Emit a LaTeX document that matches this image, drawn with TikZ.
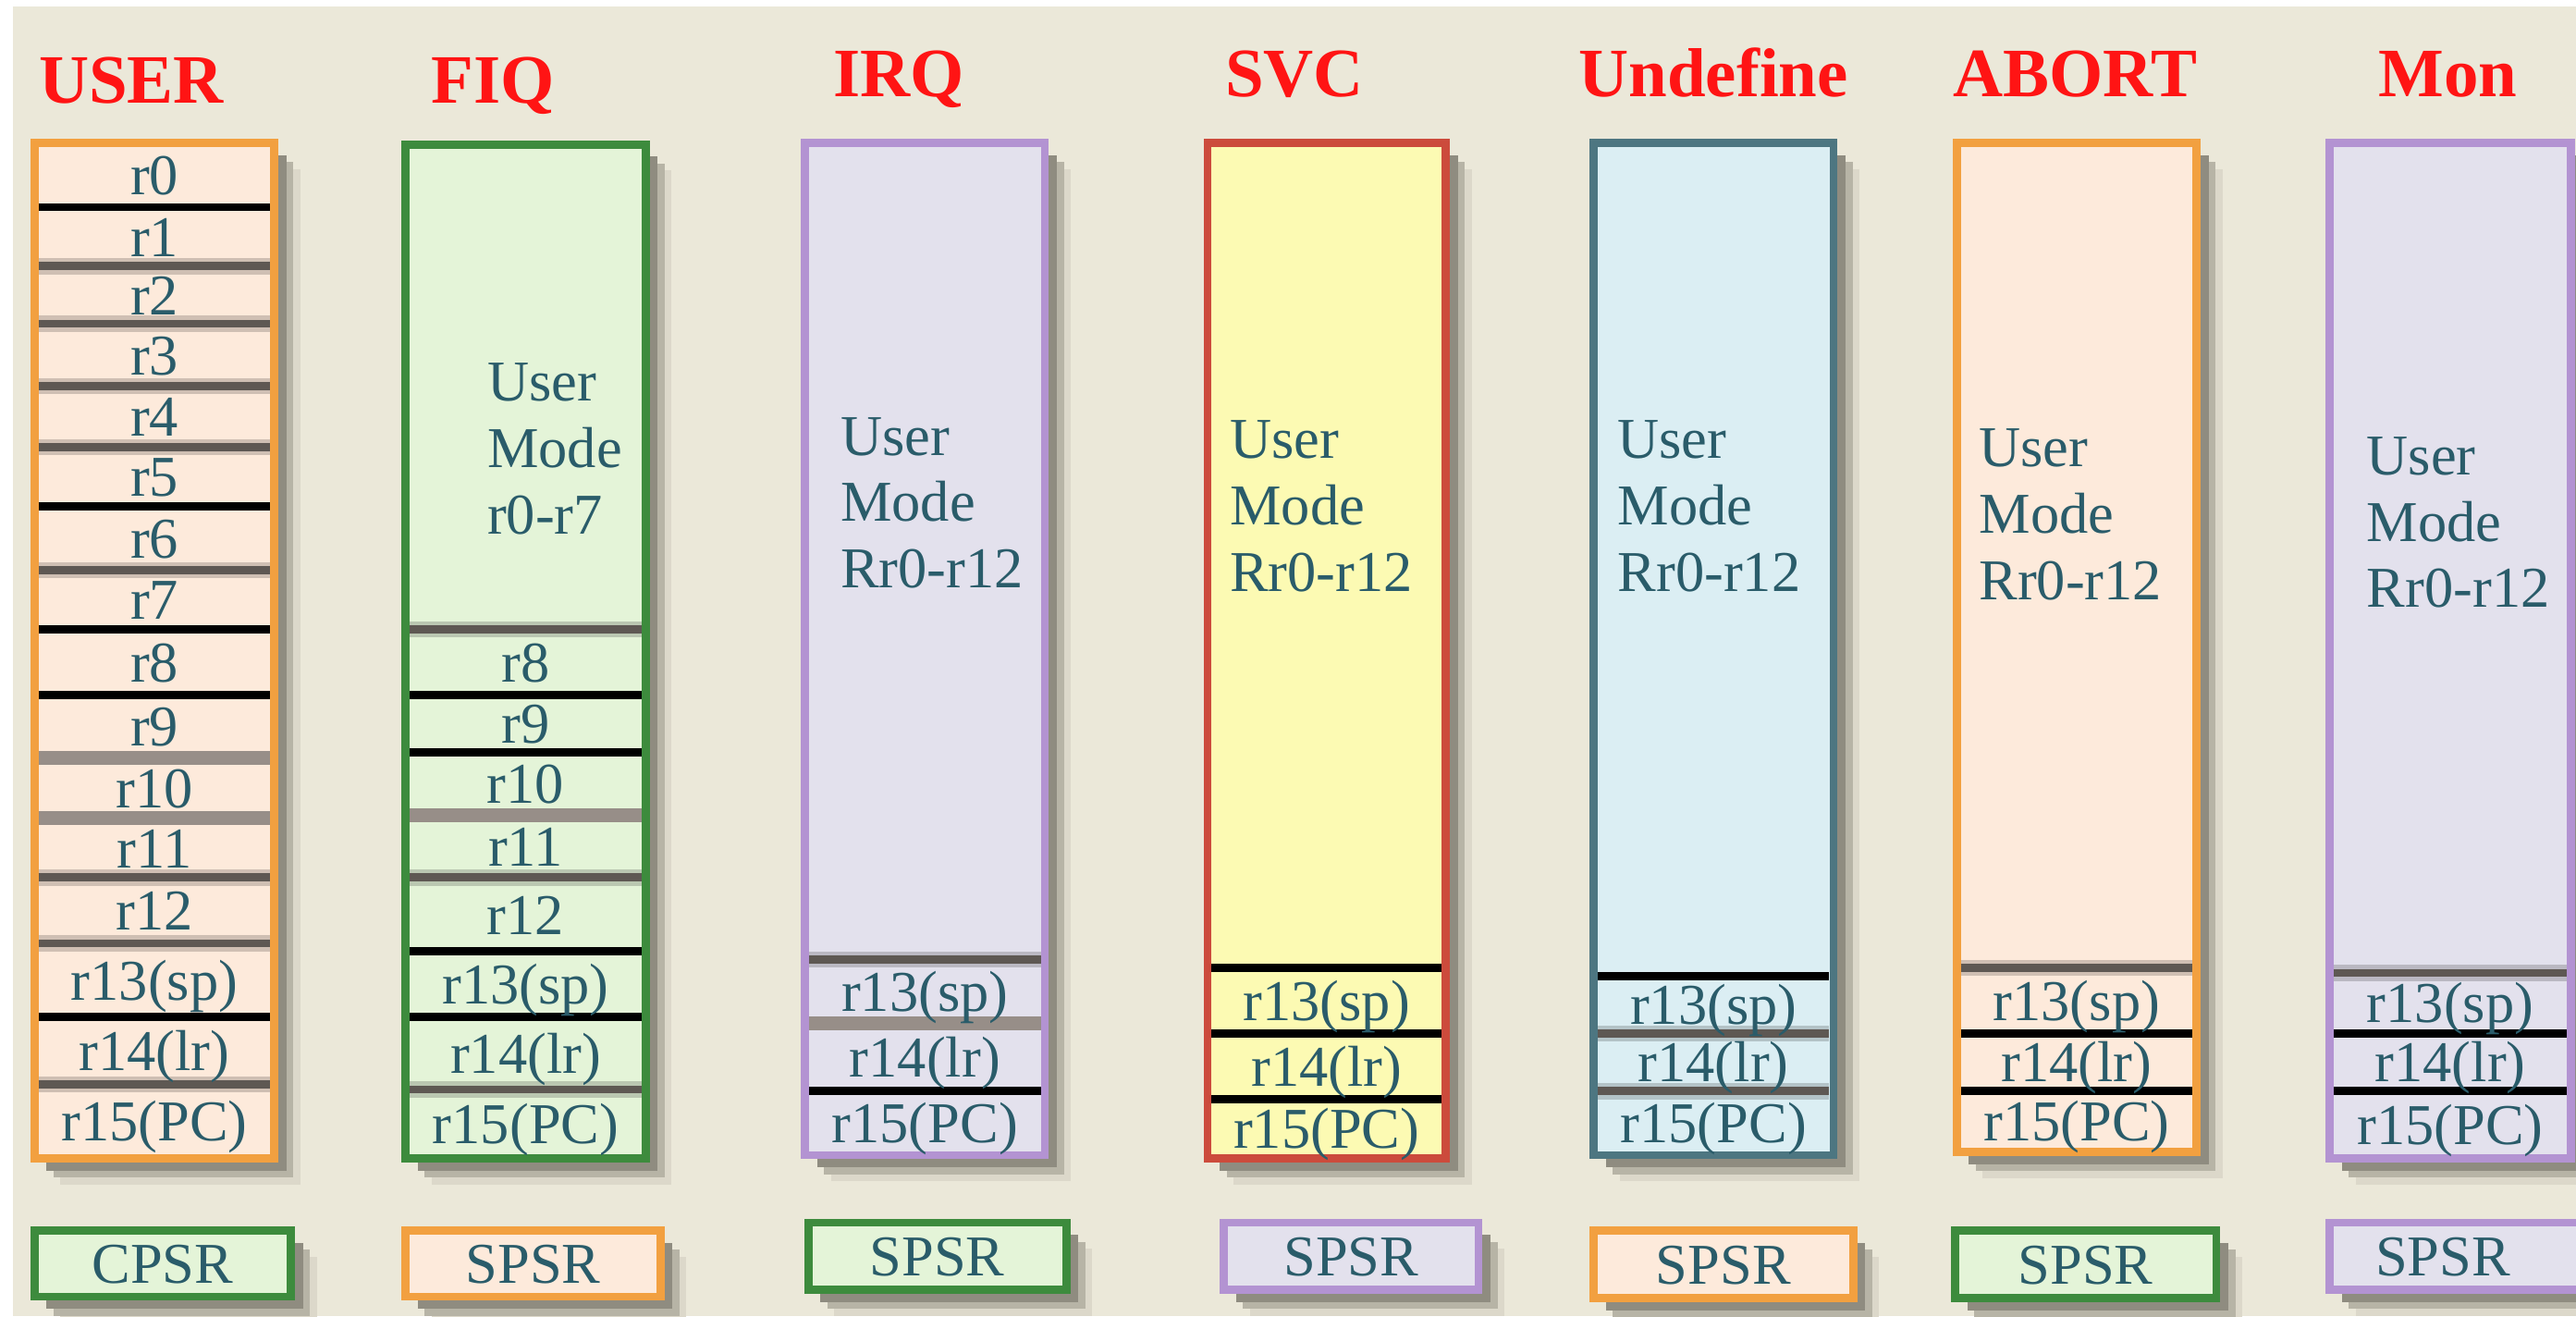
\documentclass[tikz,border=0pt]{standalone}
\usepackage{fontspec}
\setmainfont{Liberation Serif}
\usetikzlibrary{
  shadows % Für die Schatten der Kästen
}

% Farben
\definecolor{grund}{HTML}{EBE8D9}
\definecolor{titelrot}{HTML}{FF1414}
\definecolor{schrift}{HTML}{2A5C6A}
\definecolor{pfirsich}{HTML}{FDEADB}
\definecolor{orangerand}{HTML}{F2A040}
\definecolor{gruen}{HTML}{E4F4D8}
\definecolor{gruenrand}{HTML}{3D8B3D}
\definecolor{lila}{HTML}{E3E1ED}
\definecolor{lilarand}{HTML}{B393D2}
\definecolor{gelb}{HTML}{FCFAB3}
\definecolor{rotrand}{HTML}{CC4B3C}
\definecolor{blau}{HTML}{DBEEF3}
\definecolor{blaurand}{HTML}{4D7681}
\definecolor{schattenA}{HTML}{8F8C80}
\definecolor{schattenB}{HTML}{B7B4A6}
\definecolor{schattenC}{HTML}{DCD8CA}
\definecolor{trenngrau}{HTML}{5E5853}
\definecolor{trennmittel}{HTML}{978E88}

\begin{document}
\begin{tikzpicture}[
    x=0.1mm, y=-0.1mm, % 1 Einheit = 1 Pixel, y nach unten
    titel/.style={text=titelrot, font=\fontsize{12}{14}\selectfont\bfseries, anchor=base},
    reg/.style={text=schrift, font=\fontsize{10}{12}\selectfont, inner sep=0pt,
      text height=6.8pt, text depth=0pt},
    modus/.style={text=schrift, font=\fontsize{10}{11.5}\selectfont, inner sep=0pt,
      align=left, anchor=west},
    kasten/.style={line width=1.4pt,
      general shadow={shadow xshift=4.5pt, shadow yshift=-4.5pt, fill=schattenC},
      general shadow={shadow xshift=3.3pt, shadow yshift=-3.3pt, fill=schattenB},
      general shadow={shadow xshift=2.1pt, shadow yshift=-2.1pt, fill=schattenA}},
    trennk/.style={draw=black, line width=1.4pt},
    trenng/.style={draw=trenngrau, line width=1.4pt,
      preaction={draw=black, draw opacity=0.18, line width=2.8pt}},
    trennm/.style={draw=trennmittel, line width=2.4pt},
  ]
  % Hintergrund
  \useasboundingbox (0,0) rectangle (1568,801);
  \clip (0,0) rectangle (1568,801);
  \fill[white] (0,0) rectangle (1568,801);
  \fill[grund] (8,4) rectangle (1568,801);

  % USER
  \node[titel] (t-user) at (80,63) {USER};
  \draw[kasten, draw=orangerand, fill=pfirsich] (21,87) rectangle (167,705);
  \foreach \y/\s in {126/trennk, 162/trenng, 197/trenng, 235/trenng, 272/trenng,
      308/trennk, 347/trenng, 383/trennk, 423/trennk, 461/trennm, 498/trennm,
      534/trenng, 574/trenng, 619/trennk, 660/trenng}
    \draw[\s] (23.5,\y) -- (164.5,\y);
  \foreach \t/\y [count=\i from 0] in {r0/106.5, r1/144, r2/179.5, r3/216,
      r4/253.5, r5/290, r6/327.5, r7/365, r8/403, r9/442, r10/479.5, r11/516,
      r12/554, r13(sp)/596.5, r14(lr)/639.5, r15(PC)/682.5}
    \node[reg] (user-\i) at (94,\y) {\t};
  \draw[kasten, draw=gruenrand, fill=gruen] (21,749) rectangle (177,789);
  \node[reg] (user-cpsr) at (99,769) {CPSR};

  % FIQ
  \node[titel] (t-fiq) at (300,63) {FIQ};
  \draw[kasten, draw=gruenrand, fill=gruen] (247,88) rectangle (393,705);
  \node[modus] (fiq-modus) at (296,273) {User\\Mode\\r0-r7};
  \foreach \y/\s in {383/trenng, 423/trennk, 458/trennk, 496/trennm, 534/trenng,
      579/trennk, 619/trennk, 663/trenng}
    \draw[\s] (249.5,\y) -- (390.5,\y);
  \foreach \t/\y [count=\i from 8] in {r8/403, r9/440.5, r10/477, r11/515,
      r12/556.5, r13(sp)/599, r14(lr)/641, r15(PC)/684}
    \node[reg] (fiq-\i) at (320,\y) {\t};
  \draw[kasten, draw=orangerand, fill=pfirsich] (247,749) rectangle (402,789);
  \node[reg] (fiq-spsr) at (324.5,769) {SPSR};

  % IRQ
  \node[titel] (t-irq) at (547,59) {IRQ};
  \draw[kasten, draw=lilarand, fill=lila] (490,87) rectangle (636,703);
  \node[modus] (irq-modus) at (511,306) {User\\Mode\\Rr0-r12};
  \foreach \y/\s in {584/trenng, 623/trennm, 664/trennk}
    \draw[\s] (492.5,\y) -- (633.5,\y);
  \foreach \t/\y [count=\i from 13] in {r13(sp)/603.5, r14(lr)/643.5, r15(PC)/683.5}
    \node[reg] (irq-\i) at (563,\y) {\t};
  \draw[kasten, draw=gruenrand, fill=gruen] (492,744) rectangle (649,785);
  \node[reg] (irq-spsr) at (570.5,764.5) {SPSR};

  % SVC
  \node[titel] (t-svc) at (788,59) {SVC};
  \draw[kasten, draw=rotrand, fill=gelb] (735,87) rectangle (880,705);
  \node[modus] (svc-modus) at (748,308) {User\\Mode\\Rr0-r12};
  \foreach \y/\s in {589/trennk, 629/trennk, 669/trennk}
    \draw[\s] (737.5,\y) -- (877.5,\y);
  \foreach \t/\y [count=\i from 13] in {r13(sp)/609, r14(lr)/649, r15(PC)/687}
    \node[reg] (svc-\i) at (807.5,\y) {\t};
  \draw[kasten, draw=lilarand, fill=lila] (745,744) rectangle (900,785);
  \node[reg] (svc-spsr) at (822.5,764.5) {SPSR};

  % Undefine
  \node[titel] (t-und) at (1043,59) {Undefine};
  \draw[kasten, draw=blaurand, fill=blau] (970,87) rectangle (1116,703);
  \node[modus] (und-modus) at (984,308) {User\\Mode\\Rr0-r12};
  \foreach \y/\s in {594/trennk, 629/trenng, 664/trenng}
    \draw[\s] (972.5,\y) -- (1113.5,\y);
  \foreach \t/\y [count=\i from 13] in {r13(sp)/611.5, r14(lr)/646.5, r15(PC)/683.5}
    \node[reg] (und-\i) at (1043,\y) {\t};
  \draw[kasten, draw=orangerand, fill=pfirsich] (970,749) rectangle (1128,790);
  \node[reg] (und-spsr) at (1049,769.5) {SPSR};

  % ABORT
  \node[titel] (t-abt) at (1263,59) {ABORT};
  \draw[kasten, draw=orangerand, fill=pfirsich] (1191,87) rectangle (1337,701);
  \node[modus] (abt-modus) at (1204,313) {User\\Mode\\Rr0-r12};
  \foreach \y/\s in {589/trenng, 629/trennk, 664/trennk}
    \draw[\s] (1193.5,\y) -- (1334.5,\y);
  \foreach \t/\y [count=\i from 13] in {r13(sp)/609, r14(lr)/646.5, r15(PC)/682.5}
    \node[reg] (abt-\i) at (1264,\y) {\t};
  \draw[kasten, draw=gruenrand, fill=gruen] (1190,749) rectangle (1349,790);
  \node[reg] (abt-spsr) at (1269.5,769.5) {SPSR};

  % Mon
  \node[titel] (t-mon) at (1490,59) {Mon};
  \draw[kasten, draw=lilarand, fill=lila] (1418,87) rectangle (1565,705);
  \node[modus] (mon-modus) at (1440,318) {User\\Mode\\Rr0-r12};
  \foreach \y/\s in {592/trenng, 629/trennk, 664/trennk}
    \draw[\s] (1420.5,\y) -- (1562.5,\y);
  \foreach \t/\y [count=\i from 13] in {r13(sp)/610.5, r14(lr)/646.5, r15(PC)/684.5}
    \node[reg] (mon-\i) at (1491.5,\y) {\t};
  \draw[kasten, draw=lilarand, fill=lila] (1418,744) rectangle (1590,785);
  \node[reg] (mon-spsr) at (1487,764.5) {SPSR};
\end{tikzpicture}
\end{document}
